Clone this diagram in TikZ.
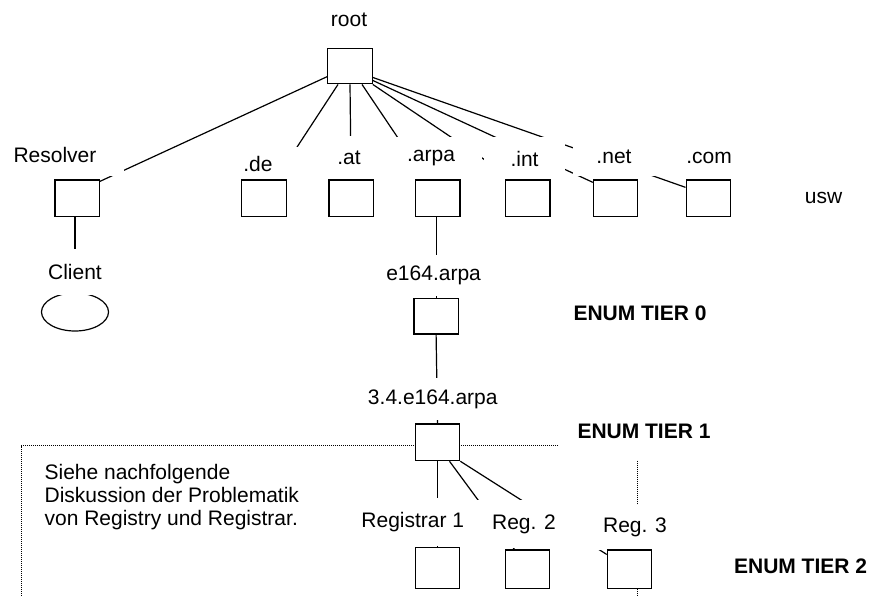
\documentclass[tikz,border=0pt]{standalone}
\usepackage{fontspec}
\setmainfont{Liberation Sans}
\usetikzlibrary{shapes.geometric,backgrounds,calc}
\begin{document}
\begin{tikzpicture}[x=1pt,y=-1pt,
  every node/.style={font=\fontsize{21pt}{23.4pt}\selectfont},
  boxn/.style={draw,fill=white,line width=1.2pt,inner sep=0pt,minimum width=44.4pt,minimum height=36.7pt},
  lbl/.style={fill=white,inner sep=0pt},
  txt/.style={inner sep=0pt},
  tier/.style={inner sep=0pt,font=\fontsize{21pt}{23.4pt}\selectfont\bfseries},
  con/.style={line width=1.2pt},
  dots/.style={line width=1pt,dash pattern=on 1pt off 1pt}]
\useasboundingbox (0,0) rectangle (870,596);

% client ellipse (drawn before its label, which covers its top)
\node[ellipse,draw,line width=1.2pt,inner sep=0pt,minimum width=67pt,minimum height=38pt] (client) at (75,312) {};

% labels with white backgrounds
\node[txt] (rootL) at (349,20) {root};
\node[lbl,minimum width=138pt,minimum height=42pt] (resL) at (55,155) {Resolver};
\node[lbl,minimum width=86pt,minimum height=34pt] (deL) at (258,164) {.de};
\node[lbl,minimum width=82pt,minimum height=44pt] (atL) at (349,158) {.at};
\node[lbl,minimum width=102pt,minimum height=42pt] (arpaL) at (431,158) {.arpa};
\node[lbl,minimum width=81pt,minimum height=43pt] (intL) at (524.5,158.5) {.int};
\node[lbl,minimum width=82pt,minimum height=38pt] (netL) at (614,157) {.net};
\node[lbl,minimum width=82pt,minimum height=42pt] (comL) at (709,158) {.com};
\node[txt] (usw) at (823.6,198) {usw};
\node[lbl,minimum width=82pt,minimum height=46pt] (clientL) at (75,271.5) {Client};
\node[lbl,minimum width=120pt,minimum height=41pt] (e164L) at (433.6,275.5) {e164.arpa};
\node[lbl,minimum width=150pt,minimum height=42pt] (t1L) at (432.8,399) {3.4.e164.arpa};
\node[lbl,minimum width=124pt,minimum height=48pt] (reg1L) at (412.8,522) {Registrar 1};
\node[lbl,minimum width=100pt,minimum height=48pt] (reg2L) at (524,524) {Reg. 2};
\node[lbl,minimum width=124pt,minimum height=45pt] (reg3L) at (635,527.5) {Reg. 3};
\node[tier] (tier0) at (640,313.3) {ENUM TIER 0};
\node[tier,fill=white,minimum width=172pt,minimum height=58pt] (tier1) at (644,431) {ENUM TIER 1};
\node[tier] (tier2) at (800.6,566.7) {ENUM TIER 2};
\node[txt,anchor=west,align=left] (note) at (44.4,497) {Siehe nachfolgende\\Diskussion der Problematik\\von Registry und Registrar.};

% boxes
\node[boxn,minimum height=35.7pt] (root) at (350,66) {};
\node[boxn] (res) at (77.2,198.3) {};
\node[boxn] (de) at (263.9,198.3) {};
\node[boxn] (at) at (351.1,198.3) {};
\node[boxn] (arpa) at (437.8,198.3) {};
\node[boxn] (int) at (527.8,198.3) {};
\node[boxn] (net) at (615.6,198.3) {};
\node[boxn] (com) at (708.3,198.3) {};
\node[boxn,minimum height=35.7pt] (e164) at (436.1,316.2) {};
\node[boxn] (t1) at (437.5,442.3) {};
\node[boxn,minimum height=40.6pt] (reg1) at (437.5,568) {};
\node[boxn,minimum height=38.3pt] (reg2) at (527.5,569.2) {};
\node[boxn,minimum height=38.3pt] (reg3) at (629.5,569.2) {};

\coordinate (dA) at (21.1,600);
\coordinate (dB) at (21.1,445.7);
\coordinate (dC) at (637.8,445.7);
\coordinate (dD) at (637.8,600);

\begin{scope}[on background layer]
  \draw[dots] (dA) -- (dB) -- (dC) -- (dD);
  \draw[con] (root.205) -- ([yshift=-2pt]res.north east);
  \draw[con] ([xshift=-12pt]root.south) -- ([xshift=12pt]de.north);
  \draw[con] (root.south) -- (at.north);
  \draw[con] ([xshift=12pt]root.south) -- ([xshift=-12pt]arpa.north);
  \draw[con] (root.south east) -- ([xshift=-14pt]int.north);
  \draw[con] ([yshift=4pt]root.south east) -- ([yshift=-3pt]net.north west);
  \draw[con] ([yshift=7pt]root.south east) -- ([yshift=-8pt]com.north west);
  \draw[con] (client.north |- res.south) -- (client.north);
  \draw[con] (e164.north |- arpa.south) -- (e164.north);
  \draw[con] (e164.south) -- (t1.north);
  \draw[con] (t1.south) -- (reg1.north);
  \draw[con] ([xshift=12pt]t1.south) -- ([xshift=-13pt]reg2.north);
  \draw[con] (t1.south east) -- ([yshift=-5pt]reg3.north west);
\end{scope}
\end{tikzpicture}
\end{document}
